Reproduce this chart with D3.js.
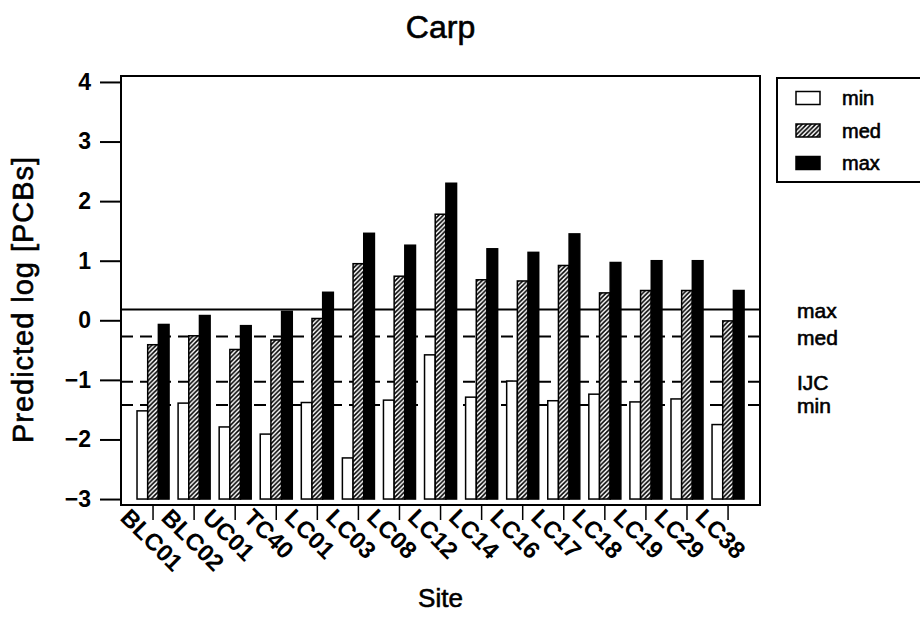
<!DOCTYPE html>
<html>
<head>
<meta charset="utf-8">
<script src="https://cdn.jsdelivr.net/npm/d3@7"></script>
<style>
  body { margin: 0; background: #fff; }
  text { font-family: Arial, "Liberation Sans", sans-serif; fill: #000; }
  .heavy { stroke: #000; stroke-width: 0.6px; }
</style>
</head>
<body>
<div class="chart"></div>
<script>
// data
const sites = ["BLC01", "BLC02", "UC01", "TC40", "LC01", "LC03", "LC08", "LC12",
               "LC14", "LC16", "LC17", "LC18", "LC19", "LC29", "LC38"]
const minVals = [-1.52, -1.39, -1.79, -1.91, -1.38, -2.31, -1.34, -0.58, -1.29, -1.02, -1.35, -1.24, -1.37, -1.32, -1.75]
const medVals = [-0.41, -0.26, -0.49, -0.33, 0.03, 0.95, 0.74, 1.78, 0.68, 0.66, 0.92, 0.46, 0.50, 0.50, -0.01]
const maxVals = [-0.07, 0.08, -0.09, 0.15, 0.47, 1.46, 1.26, 2.30, 1.20, 1.14, 1.45, 0.97, 1.00, 1.00, 0.50]
const seriesNames = ["min", "med", "max"]
const yTicks = [-3, -2, -1, 0, 1, 2, 3, 4]
const refNames = ["max", "med", "IJC", "min"]
const refVals = [0.18, -0.27, -1.03, -1.42]

const width = 920
const height = 618
const frame = { left: 121, right: 760, top: 76, bottom: 505 }

const svg = d3.select(".chart")
    .append("svg")
    .attr("width", width)
    .attr("height", height)

// hatch for the "med" bars
const defs = svg.append("defs")
const pat = defs.append("pattern")
    .attr("id", "hatch")
    .attr("patternUnits", "userSpaceOnUse")
    .attr("width", 4.5)
    .attr("height", 4.5)
pat.append("rect").attr("width", 4.5).attr("height", 4.5).attr("fill", "#fff")
pat.append("path")
    .attr("d", "M-1,1 l2,-2 M0,4.5 l4.5,-4.5 M3.5,5.5 l2,-2")
    .attr("stroke", "#000")
    .attr("stroke-width", 1.6)

const fills = { min: "#fff", med: "url(#hatch)", max: "#000" }

// scales
const y = d3.scaleLinear()
    .domain([-3.1, 4.1])
    .range([frame.bottom, frame.top])

const x = d3.scaleBand()
    .domain(sites)
    .range([132.5, 748.6])
    .paddingInner(0.22)
    .paddingOuter(0.11)

const xSub = d3.scaleBand()
    .domain(seriesNames)
    .range([0, x.bandwidth()])

const rows = sites.map((s, i) => ({ site: s, min: minVals[i], med: medVals[i], max: maxVals[i] }))

// reference lines (drawn under the bars)
svg.append("g")
    .selectAll("line")
    .data(refNames)
    .enter()
    .append("line")
    .attr("x1", frame.left)
    .attr("x2", frame.right)
    .attr("y1", (d, i) => y(refVals[i]))
    .attr("y2", (d, i) => y(refVals[i]))
    .attr("stroke", "#000")
    .attr("stroke-width", 2)
    .attr("stroke-dasharray", d => d === "max" ? null : "12,7")

svg.append("g")
    .selectAll("text")
    .data(refNames)
    .enter()
    .append("text")
    .attr("class", "heavy")
    .attr("x", 797)
    .attr("y", (d, i) => y(refVals[i]))
    .attr("dy", "0.4em")
    .style("font-size", "21px")
    .text(d => d)

// bars
const groups = svg.append("g")
    .selectAll("g")
    .data(rows)
    .enter()
    .append("g")
    .attr("transform", d => `translate(${x(d.site)},0)`)

groups.selectAll("rect")
    .data(d => seriesNames.map(k => ({ key: k, value: d[k] })))
    .enter()
    .append("rect")
    .attr("x", d => xSub(d.key))
    .attr("y", d => y(d.value))
    .attr("width", xSub.bandwidth())
    .attr("height", d => y(-3) - y(d.value))
    .attr("fill", d => fills[d.key])
    .attr("stroke", "#000")
    .attr("stroke-width", 1.5)

// frame
svg.append("rect")
    .attr("x", frame.left)
    .attr("y", frame.top)
    .attr("width", frame.right - frame.left)
    .attr("height", frame.bottom - frame.top)
    .attr("fill", "none")
    .attr("stroke", "#000")
    .attr("stroke-width", 2)

// y axis
const yAxis = svg.append("g")
    .attr("transform", `translate(${frame.left},0)`)
    .call(d3.axisLeft(y).tickValues(yTicks).tickSize(21).tickPadding(9))
yAxis.select(".domain").remove()
yAxis.selectAll("line").attr("stroke", "#000").attr("stroke-width", 2)
yAxis.selectAll("text")
    .style("font-size", "23px")
    .style("font-weight", "bold")
    .style("font-family", "Arial, 'Liberation Sans', sans-serif")
    .attr("fill", "#000")

// x axis
const xAxis = svg.append("g")
    .attr("transform", `translate(0,${frame.bottom})`)
    .call(d3.axisBottom(x).tickSize(15))
xAxis.select(".domain").remove()
xAxis.selectAll("line").attr("stroke", "#000").attr("stroke-width", 1.5)
xAxis.selectAll("text")
    .attr("x", 0)
    .attr("y", 0)
    .attr("dy", 0)
    .attr("text-anchor", "start")
    .attr("transform", "translate(-34,14) rotate(45)")
    .style("font-size", "24px")
    .style("font-weight", "bold")
    .style("font-family", "Arial, 'Liberation Sans', sans-serif")
    .attr("fill", "#000")

// titles
svg.append("text")
    .attr("class", "heavy")
    .attr("x", (frame.left + frame.right) / 2)
    .attr("y", 38)
    .attr("text-anchor", "middle")
    .style("font-size", "32px")
    .text("Carp")

svg.append("text")
    .attr("class", "heavy")
    .attr("x", (frame.left + frame.right) / 2)
    .attr("y", 607)
    .attr("text-anchor", "middle")
    .style("font-size", "26px")
    .text("Site")

svg.append("text")
    .attr("class", "heavy")
    .attr("transform", "translate(33,300) rotate(-90)")
    .attr("text-anchor", "middle")
    .attr("textLength", 286)
    .attr("lengthAdjust", "spacing")
    .style("font-size", "29px")
    .text("Predicted log [PCBs]")

// legend
const legend = svg.append("g")
legend.append("rect")
    .attr("x", 777)
    .attr("y", 78)
    .attr("width", 160)
    .attr("height", 104)
    .attr("fill", "#fff")
    .attr("stroke", "#000")
    .attr("stroke-width", 2)

const legRows = legend.selectAll("g.item")
    .data(seriesNames)
    .enter()
    .append("g")
    .attr("class", "item")
    .attr("transform", (d, i) => `translate(796,${98 + i * 32.5})`)

legRows.append("rect")
    .attr("x", 0)
    .attr("y", -6.5)
    .attr("width", 24)
    .attr("height", 13)
    .attr("fill", d => fills[d])
    .attr("stroke", "#000")
    .attr("stroke-width", 1.5)

legRows.append("text")
    .attr("class", "heavy")
    .attr("x", 46)
    .attr("y", 0)
    .attr("dy", "0.35em")
    .style("font-size", "20px")
    .text(d => d)
</script>
</body>
</html>
